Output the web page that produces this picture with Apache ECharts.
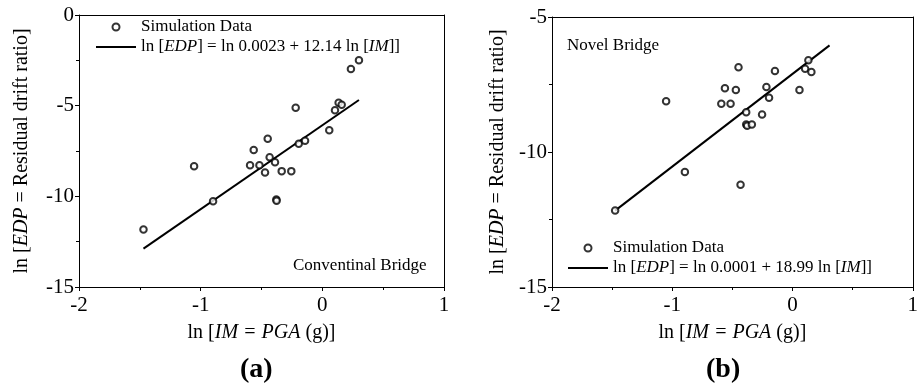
<!DOCTYPE html>
<html>
<head>
<meta charset="utf-8">
<script src="https://cdn.jsdelivr.net/npm/echarts@6/dist/echarts.min.js"></script>
<style>
  html, body { margin: 0; padding: 0; background: #fff; }
  #main { width: 921px; height: 389px; }
</style>
</head>
<body>
<div id="main"></div>
<script>
// (a) conventional bridge - ln IM / ln EDP pairs
var imA = [-1.47, -1.054, -0.898, -0.594, -0.564, -0.517, -0.471, -0.449, -0.433, -0.389, -0.378, -0.376,
  -0.334, -0.255, -0.219, -0.194, -0.142, 0.057, 0.104, 0.134, 0.159, 0.235, 0.301]
var edpA = [-11.83, -8.34, -10.27, -8.28, -7.44, -8.28, -8.69, -6.83, -7.84, -8.12, -10.18, -10.24,
  -8.61, -8.61, -5.12, -7.10, -6.94, -6.35, -5.25, -4.84, -4.95, -2.98, -2.50]
var fitImA = [-1.47, 0.301]
var fitEdpA = [-12.88, -4.69]

// (b) novel bridge
var imB = [-1.475, -1.051, -0.895, -0.592, -0.562, -0.515, -0.471, -0.449, -0.432, -0.385, -0.385, -0.377,
  -0.338, -0.253, -0.217, -0.195, -0.146, 0.058, 0.105, 0.132, 0.157]
var edpB = [-12.17, -8.12, -10.74, -8.21, -7.64, -8.21, -7.70, -6.86, -11.21, -8.53, -8.98, -9.03,
  -8.98, -8.61, -7.59, -7.99, -7.00, -7.70, -6.92, -6.60, -7.04]
var fitImB = [-1.475, 0.308]
var fitEdpB = [-12.17, -6.05]

var xTicks = [-2, -1, 0, 1]
var yTicksA = [-15, -10, -5, 0]
var yTicksB = [-15, -10, -5]

var fitNames = {
  fitA: '{n|ln [}{i|EDP}{n|] = ln 0.0023 + 12.14 ln [}{i|IM}{n|]]}',
  fitB: '{n|ln [}{i|EDP}{n|] = ln 0.0001 + 18.99 ln [}{i|IM}{n|]]}'
}

var FONT = '"Liberation Serif", "Times New Roman", serif'
var rich = {
  n: { fontFamily: FONT, fontSize: 20, color: '#000' },
  i: { fontFamily: FONT, fontSize: 20, color: '#000', fontStyle: 'italic' }
}
var legRich = {
  n: { fontFamily: FONT, fontSize: 17, color: '#000' },
  i: { fontFamily: FONT, fontSize: 17, color: '#000', fontStyle: 'italic' }
}

function pairs(xs, ys) {
  return xs.map(function (x, i) { return [x, ys[i]] })
}

function mainX(grid) {
  return {
    type: 'value', gridIndex: grid, position: 'bottom',
    min: xTicks[0], max: xTicks[xTicks.length - 1], interval: 1,
    name: '{n|ln [}{i|IM = PGA}{n| (g)]}',
    nameLocation: 'middle', nameGap: 36,
    nameTextStyle: { rich: rich },
    axisLine: { show: true, onZero: false, lineStyle: { color: '#000', width: 1 } },
    axisTick: { show: true, inside: false, length: 4, lineStyle: { color: '#000' } },
    minorTick: { show: true, splitNumber: 2, length: 3, lineStyle: { color: '#000' } },
    axisLabel: { color: '#000', fontFamily: FONT, fontSize: 21, margin: 8 },
    splitLine: { show: false }
  }
}
function boxX(grid) {
  return {
    type: 'value', gridIndex: grid, position: 'top',
    min: xTicks[0], max: xTicks[xTicks.length - 1],
    axisLine: { show: true, onZero: false, lineStyle: { color: '#000', width: 1 } },
    axisTick: { show: false }, axisLabel: { show: false }, splitLine: { show: false }
  }
}
function mainY(grid, ticks, gap) {
  return {
    type: 'value', gridIndex: grid, position: 'left',
    min: ticks[0], max: ticks[ticks.length - 1], interval: 5,
    name: '{n|ln [}{i|EDP}{n| = Residual drift ratio]}',
    nameLocation: 'middle', nameGap: gap, nameRotate: 90,
    nameTextStyle: { rich: rich },
    axisLine: { show: true, onZero: false, lineStyle: { color: '#000', width: 1 } },
    axisTick: { show: true, inside: false, length: 4, lineStyle: { color: '#000' } },
    minorTick: { show: true, splitNumber: 2, length: 3, lineStyle: { color: '#000' } },
    axisLabel: { color: '#000', fontFamily: FONT, fontSize: 21, margin: 5 },
    splitLine: { show: false }
  }
}
function boxY(grid, ticks) {
  return {
    type: 'value', gridIndex: grid, position: 'right',
    min: ticks[0], max: ticks[ticks.length - 1],
    axisLine: { show: true, onZero: false, lineStyle: { color: '#000', width: 1 } },
    axisTick: { show: false }, axisLabel: { show: false }, splitLine: { show: false }
  }
}

function legend(left, top, fitName) {
  return {
    orient: 'vertical', left: left, top: top,
    itemWidth: 40, itemHeight: 7, itemGap: 0,
    selectedMode: false,
    data: ['Simulation Data', { name: fitName, itemStyle: { opacity: 0 } }],
    formatter: function (name) {
      return fitNames[name] || '{n|' + name + '}'
    },
    textStyle: { lineHeight: 20, rich: legRich }
  }
}

var scatterStyle = {
  type: 'scatter', name: 'Simulation Data',
  symbol: 'emptyCircle', symbolSize: 6.5,
  itemStyle: { color: '#000', borderWidth: 1 }
}

var myChart = echarts.init(document.getElementById('main'))
myChart.setOption({
  animation: false,
  backgroundColor: '#fff',
  grid: [
    { left: 79, top: 15, width: 365, height: 272 },
    { left: 552, top: 17, width: 363, height: 270 }
  ],
  xAxis: [mainX(0), boxX(0), mainX(1), boxX(1)],
  yAxis: [mainY(0, yTicksA, 47), boxY(0, yTicksA), mainY(1, yTicksB, 44), boxY(1, yTicksB)],
  legend: [legend(90, 12, 'fitA'), legend(562, 233, 'fitB')],
  series: [
    Object.assign({}, scatterStyle, { xAxisIndex: 0, yAxisIndex: 0, data: pairs(imA, edpA), z: 3 }),
    { type: 'line', name: 'fitA', xAxisIndex: 0, yAxisIndex: 0, symbol: 'none',
      lineStyle: { color: '#000', width: 2 }, itemStyle: { color: '#000' },
      data: pairs(fitImA, fitEdpA) },
    Object.assign({}, scatterStyle, { xAxisIndex: 2, yAxisIndex: 2, data: pairs(imB, edpB), z: 3 }),
    { type: 'line', name: 'fitB', xAxisIndex: 2, yAxisIndex: 2, symbol: 'none',
      lineStyle: { color: '#000', width: 2 }, itemStyle: { color: '#000' },
      data: pairs(fitImB, fitEdpB) }
  ],
  graphic: [
    { type: 'text', left: 293, top: 257,
      style: { text: 'Conventinal Bridge', font: '17px ' + FONT, fill: '#000' } },
    { type: 'text', left: 567, top: 37,
      style: { text: 'Novel Bridge', font: '17px ' + FONT, fill: '#000' } },
    { type: 'text', left: 240, top: 356,
      style: { text: '(a)', font: 'bold 28px ' + FONT, fill: '#000' } },
    { type: 'text', left: 706, top: 356,
      style: { text: '(b)', font: 'bold 28px ' + FONT, fill: '#000' } }
  ]
})
</script>
</body>
</html>
